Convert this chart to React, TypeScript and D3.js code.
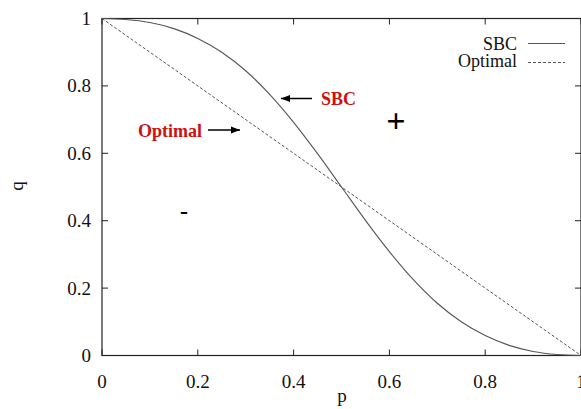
import React from "react";
import * as d3 from "d3";

const pValues = [0, 0.05, 0.1, 0.15, 0.2, 0.25, 0.3, 0.35, 0.4, 0.45, 0.5, 0.55, 0.6, 0.65, 0.7, 0.75, 0.8, 0.85, 0.9, 0.95, 1];
const sbcValues = [1, 0.997, 0.988, 0.97, 0.941, 0.9, 0.845, 0.775, 0.692, 0.599, 0.5, 0.401, 0.308, 0.225, 0.155, 0.1, 0.059, 0.03, 0.012, 0.003, 0];
const optimalP = [0, 1];
const optimalQ = [1, 0];
const xTicks = [0, 0.2, 0.4, 0.6, 0.8, 1];
const yTicks = [0, 0.2, 0.4, 0.6, 0.8, 1];
const seriesNames = ["SBC", "Optimal"];

const W = 581;
const H = 409;
const left = 102;
const right = 581;
const top = 18.5;
const bottom = 355.5;

export default function App() {
  const x = d3.scaleLinear().domain([0, 1]).range([left, right]);
  const y = d3.scaleLinear().domain([0, 1]).range([bottom, top]);
  const line = d3
    .line<[number, number]>()
    .x((d) => x(d[0]))
    .y((d) => y(d[1]))
    .curve(d3.curveMonotoneX);
  const sbcPath = line(pValues.map((p, i) => [p, sbcValues[i]] as [number, number])) || "";
  const optPath =
    d3
      .line<[number, number]>()
      .x((d) => x(d[0]))
      .y((d) => y(d[1]))(optimalP.map((p, i) => [p, optimalQ[i]] as [number, number])) || "";
  const fs = { fontFamily: "Liberation Serif" };
  const curveColor = "#555";
  const red = "#d01010";
  return (
    <svg
      width={W}
      height={H}
      style={{ position: "absolute", left: 0, top: 0, background: "#fff", fontFamily: "Liberation Serif" }}
    >
      <defs>
        <marker id="ah" viewBox="0 0 10 10" refX="10" refY="5" markerWidth="9" markerHeight="9" markerUnits="userSpaceOnUse" orient="auto">
          <path d="M0,1 L10,5 L0,9 z" fill="#000" />
        </marker>
      </defs>
      <rect x={left} y={top} width={right - left} height={bottom - top} fill="none" stroke="#222" strokeWidth={1.2} />
      {xTicks.map((t) => (
        <g key={"x" + t}>
          <line x1={x(t)} x2={x(t)} y1={bottom} y2={bottom - 6} stroke="#222" />
          <line x1={x(t)} x2={x(t)} y1={top} y2={top + 6} stroke="#222" />
          <text x={x(t)} y={388} fontSize={19} textAnchor="middle" fill="#111" style={fs}>
            {String(t)}
          </text>
        </g>
      ))}
      {yTicks.map((t) => (
        <g key={"y" + t}>
          <line x1={left} x2={left + 6} y1={y(t)} y2={y(t)} stroke="#222" />
          <line x1={right} x2={right - 6} y1={y(t)} y2={y(t)} stroke="#222" />
          <text x={91} y={y(t) + 6.5} fontSize={19} textAnchor="end" fill="#111" style={fs}>
            {String(t)}
          </text>
        </g>
      ))}
      <text x={342} y={402} fontSize={19} textAnchor="middle" fill="#111" style={fs}>p</text>
      <text transform="translate(23,186) rotate(-90)" fontSize={19} textAnchor="middle" fill="#111" style={fs}>q</text>

      <path d={sbcPath} fill="none" stroke={curveColor} strokeWidth={1.1} />
      <path d={optPath} fill="none" stroke={curveColor} strokeWidth={1} strokeDasharray="3,2" />

      <text x={517} y={50} fontSize={18} textAnchor="end" fill="#111" style={fs}>{seriesNames[0]}</text>
      <line x1={528} x2={565} y1={43.5} y2={43.5} stroke={curveColor} strokeWidth={1.1} />
      <text x={517} y={67} fontSize={18} textAnchor="end" fill="#111" style={fs}>{seriesNames[1]}</text>
      <line x1={528} x2={565} y1={62.5} y2={62.5} stroke={curveColor} strokeWidth={1} strokeDasharray="3,2" />

      <text x={321} y={105} fontSize={18} fontWeight="bold" fill={red} style={fs}>SBC</text>
      <line x1={312} x2={281} y1={98.5} y2={98.5} stroke="#000" strokeWidth={1.5} markerEnd="url(#ah)" />
      <text x={138} y={136.5} fontSize={18} fontWeight="bold" fill={red} style={fs}>Optimal</text>
      <line x1={208} x2={240} y1={130} y2={130} stroke="#000" strokeWidth={1.5} markerEnd="url(#ah)" />
      <text x={396} y={132} fontSize={34} fontWeight="bold" textAnchor="middle" fill="#000" style={fs}>+</text>
      <text x={184} y={219} fontSize={24} fontWeight="bold" textAnchor="middle" fill="#000" style={fs}>-</text>
    </svg>
  );
}
